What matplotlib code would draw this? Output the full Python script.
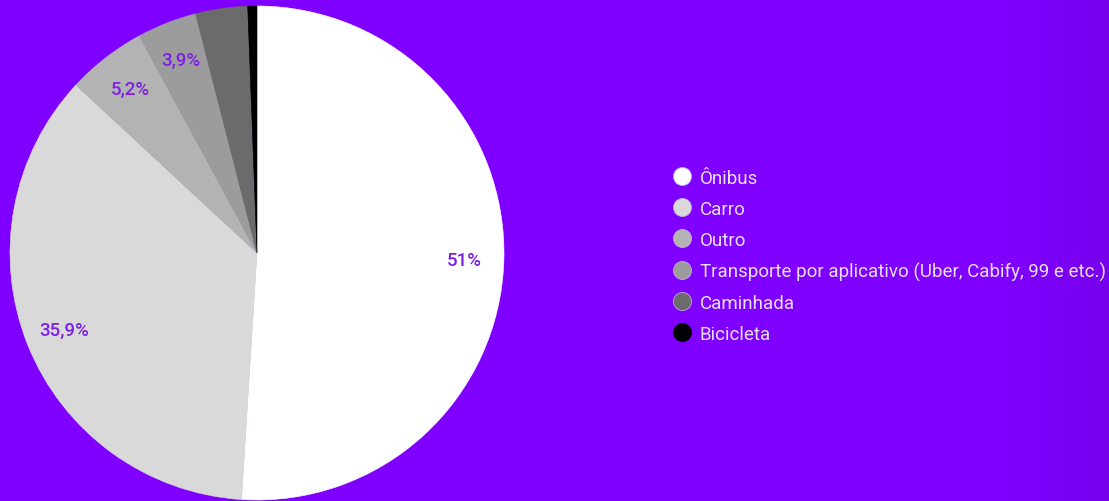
import numpy as np
import matplotlib.pyplot as plt
from matplotlib.lines import Line2D

# data
categories = ["Ônibus", "Carro", "Outro",
              "Transporte por aplicativo (Uber, Cabify, 99 e etc.)",
              "Caminhada", "Bicicleta"]
shares = [51.0, 35.9, 5.2, 3.9, 3.4, 0.6]
slice_labels = ["51%", "35,9%", "5,2%", "3,9%", "", ""]
colors = ["#ffffff", "#d9d9d9", "#b3b3b3", "#9c9c9c", "#6b6b6b", "#000000"]

BG = "#8000ff"
W, H = 1109, 502

plt.rcParams["font.family"] = ["Roboto", "DejaVu Sans"]

fig = plt.figure(figsize=(W / 100, H / 100), dpi=100, facecolor=BG)

# slight darkening towards the right edge
bg_ax = fig.add_axes([0, 0, 1, 1], zorder=-1)
grad = np.ones((2, 200, 3))
x = np.linspace(0, 1, 200)
fade = np.clip((x - 0.9) / 0.1, 0, 1) * 0.07
base = np.array([0x80, 0x00, 0xff]) / 255
for i in range(3):
    grad[:, :, i] = base[i] * (1 - fade)
bg_ax.imshow(grad, aspect="auto", extent=[0, 1, 0, 1])
bg_ax.axis("off")

# pie axes: centre ~(257, 254) px, radius ~247 px
r = 247
ax = fig.add_axes([(257 - r) / W, (H - 254 - r) / H, 2 * r / W, 2 * r / H])
wedges, texts = ax.pie(
    shares,
    colors=colors,
    labels=slice_labels,
    labeldistance=0.84,
    startangle=90,
    counterclock=False,
    wedgeprops=dict(linewidth=0.4),
    textprops=dict(color="#7d1fe4", fontsize=13.5, fontweight="medium",
                   ha="center", va="center"),
)
# hide seams between slices
for w in wedges:
    w.set_edgecolor(w.get_facecolor())

ax.set_xlim(-1, 1)
ax.set_ylim(-1, 1)
ax.set_aspect("equal")
ax.axis("off")

handles = [
    Line2D([], [], marker="o", ls="", markersize=13,
           markerfacecolor=c, markeredgecolor="#c0a8ec" if c != "#000000" else "#000000",
           markeredgewidth=0.6)
    for c in colors
]
leg = fig.legend(
    handles, categories,
    loc="upper left",
    bbox_to_anchor=(672.6 / W, 1 - 170 / H),
    frameon=False,
    fontsize=13.5,
    labelcolor="#e6e0ee",
    handlelength=1.0,
    handletextpad=0.46,
    labelspacing=0.69,
    borderpad=0,
    borderaxespad=0,
)

fig.savefig("out.png", dpi=100, facecolor=BG)
